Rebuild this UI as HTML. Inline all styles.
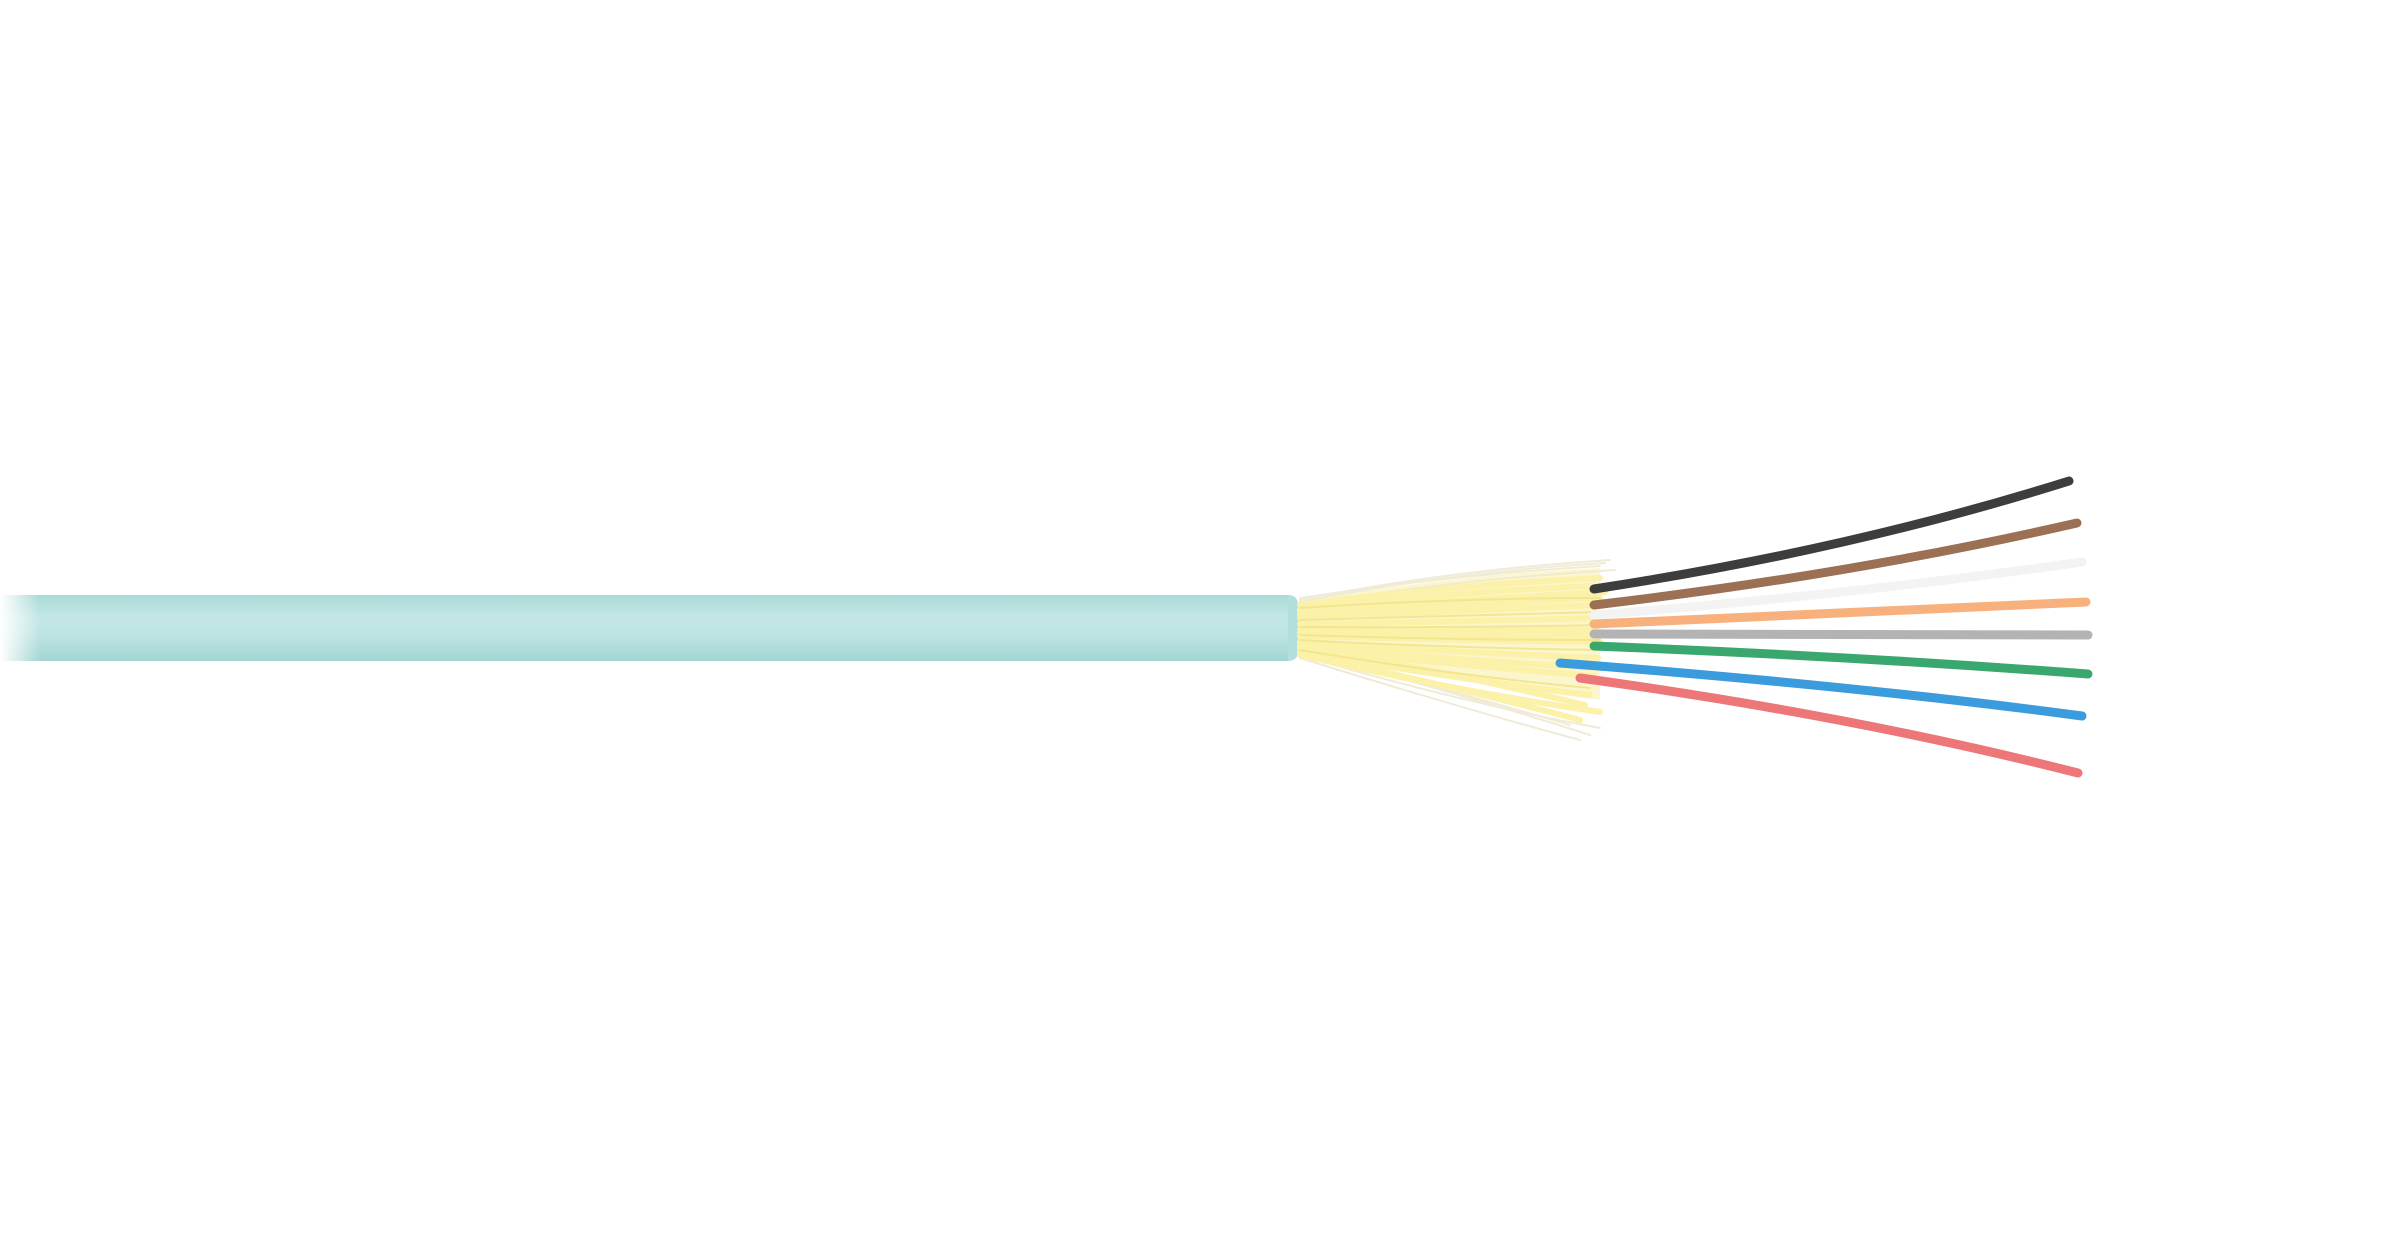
<!DOCTYPE html>
<html><head><meta charset="utf-8"><style>
html,body{margin:0;padding:0;background:#fff;width:2400px;height:1260px;overflow:hidden}
</style></head><body>
<svg width="2400" height="1260" viewBox="0 0 2400 1260" xmlns="http://www.w3.org/2000/svg">
<defs>
<linearGradient id="cab" x1="0" y1="0" x2="0" y2="1">
<stop offset="0" stop-color="#a9dad7"/>
<stop offset="0.35" stop-color="#c4e7e6"/>
<stop offset="0.6" stop-color="#bde4e2"/>
<stop offset="1" stop-color="#a3d6d2"/>
</linearGradient>
<linearGradient id="fade" x1="0" y1="0" x2="1" y2="0">
<stop offset="0" stop-color="#fff" stop-opacity="1"/>
<stop offset="1" stop-color="#fff" stop-opacity="0"/>
</linearGradient>
</defs>
<rect x="0" y="595" width="1290" height="66" fill="url(#cab)"/>
<path d="M1288 595 Q1298 595 1298 605 L1298 651 Q1298 661 1288 661 Z" fill="#b2dfdc"/>
<rect x="0" y="590" width="40" height="76" fill="url(#fade)"/>
<path d="M1298 602 Q1450 575 1600 568 L1600 700 Q1450 680 1298 655 Z" fill="#fbf4c2" opacity="0.8"/>
<g stroke-linecap="round" fill="none">
<g stroke="#efe9d2" stroke-width="2" opacity="0.9">
<path d="M1300 600 Q1450 570 1610 560"/><path d="M1300 605 Q1450 580 1615 570"/>
<path d="M1300 652 Q1450 690 1590 735"/><path d="M1300 655 Q1450 700 1600 728"/>
<path d="M1300 598 Q1450 575 1600 566"/><path d="M1300 658 Q1450 705 1580 740"/>
<path d="M1300 650 Q1450 690 1570 725"/><path d="M1300 602 Q1450 572 1605 563"/>
</g>
<g stroke="#fbf1a8" stroke-width="6">
<path d="M1300 605 Q1450 585 1600 578"/><path d="M1300 612 Q1450 600 1605 592"/>
<path d="M1300 618 Q1450 612 1600 605"/><path d="M1300 624 Q1450 622 1595 618"/>
<path d="M1300 630 Q1450 630 1598 630"/><path d="M1300 636 Q1450 640 1600 642"/>
<path d="M1300 642 Q1450 652 1598 658"/><path d="M1300 648 Q1450 665 1595 676"/>
<path d="M1300 652 Q1450 678 1590 695"/><path d="M1300 655 Q1450 690 1600 712"/>
<path d="M1300 610 Q1450 592 1590 586"/><path d="M1300 646 Q1450 672 1585 705"/>
<path d="M1300 615 Q1450 605 1600 598"/><path d="M1300 633 Q1450 636 1600 636"/>
<path d="M1300 645 Q1450 660 1600 668"/><path d="M1300 654 Q1450 685 1580 720"/>
</g>
<g stroke="#f3e68e" stroke-width="2">
<path d="M1300 608 Q1450 598 1600 598"/><path d="M1300 627 Q1450 628 1600 625"/>
<path d="M1300 640 Q1450 648 1600 650"/><path d="M1300 650 Q1450 675 1590 688"/>
<path d="M1300 620 Q1450 616 1600 612"/><path d="M1300 635 Q1450 640 1600 640"/>
</g>
<g stroke-width="9">
<path d="M1594 589 Q1850 550 2069 481" stroke="#3d3d3d"/>
<path d="M1594 605 Q1850 575 2077 523" stroke="#9b7055"/>
<path d="M1594 615 Q1850 595 2082 562" stroke="#f3f3f3"/>
<path d="M1594 624 Q1850 612 2086 602" stroke="#f8b07d"/>
<path d="M1594 634 Q1850 634 2088 635" stroke="#b3b3b3"/>
<path d="M1594 646 Q1850 656 2088 674" stroke="#3aa76e"/>
<path d="M1560 663 Q1850 685 2082 716" stroke="#3a9cdc"/>
<path d="M1580 678 Q1850 715 2078 773" stroke="#ec7678"/>
</g>
</g>
</svg>
</body></html>
